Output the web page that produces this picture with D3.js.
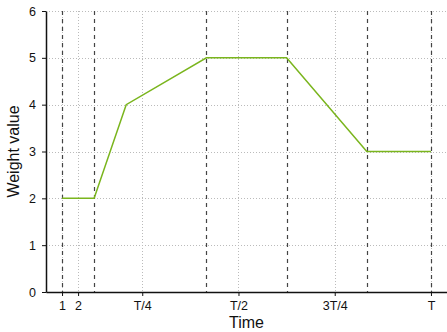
<!DOCTYPE html>
<html>
<head>
<meta charset="utf-8">
<script src="https://cdn.jsdelivr.net/npm/d3@7"></script>
<style>
  body { margin: 0; background: #fff; }
  svg { display: block; font-family: "Liberation Sans", Arial, sans-serif; }
</style>
</head>
<body>
<svg id="chart" width="447" height="332"></svg>
<script>
// data
var times = [1, 3, 5, 10, 15, 20, 24];
var weights = [2, 2, 4, 5, 5, 3, 3];
var phaseMarks = [1, 3, 10, 15, 20, 24];
var xTickVals = [1, 2, 6, 12, 18, 24];
var xTickLabels = ['1', '2', 'T/4', 'T/2', '3T/4', 'T'];
var yTickVals = [0, 1, 2, 3, 4, 5, 6];

var svg = d3.select('#chart'),
	margin = {top: 11, right: 0, bottom: 40, left: 46},
	width = 447 - margin.left - margin.right,
	height = 332 - margin.top - margin.bottom;

var x = d3.scaleLinear().domain([0, 25]).range([0, width]);
var y = d3.scaleLinear().domain([0, 6]).range([height, 0]);

var g = svg.append('g').attr('transform', 'translate(' + margin.left + ',' + margin.top + ')');

// grid
g.selectAll('line.hgrid').data(yTickVals).enter().append('line')
	.attr('x1', 0).attr('x2', width)
	.attr('y1', function(d){ return Math.round(y(d)) + 0.5; })
	.attr('y2', function(d){ return Math.round(y(d)) + 0.5; })
	.style('stroke', '#bbb').style('stroke-dasharray', '1,2');
g.selectAll('line.vgrid').data(xTickVals).enter().append('line')
	.attr('y1', 0).attr('y2', height)
	.attr('x1', function(d){ return Math.round(x(d)) + 0.5; })
	.attr('x2', function(d){ return Math.round(x(d)) + 0.5; })
	.style('stroke', '#bbb').style('stroke-dasharray', '1,2');

// dashed phase markers
g.selectAll('line.mark').data(phaseMarks).enter().append('line')
	.attr('y1', 0).attr('y2', height)
	.attr('x1', function(d){ return Math.round(x(d)) + 0.5; })
	.attr('x2', function(d){ return Math.round(x(d)) + 0.5; })
	.style('stroke', '#444').style('stroke-width', 1.2).style('stroke-dasharray', '4,4');

// weight line
var line = d3.line()
	.x(function(d, i){ return x(times[i]); })
	.y(function(d){ return y(d); });
g.append('path').datum(weights)
	.attr('d', line)
	.style('fill', 'none').style('stroke', '#7ab51d').style('stroke-width', 1.5);

// axes
var xAxis = d3.axisBottom(x).tickValues(xTickVals)
	.tickFormat(function(d, i){ return xTickLabels[i]; })
	.tickSize(4).tickPadding(5).tickSizeOuter(0);
var yAxis = d3.axisLeft(y).tickValues(yTickVals).tickFormat(d3.format('d'))
	.tickSize(4).tickPadding(6).tickSizeOuter(0);

var gx = g.append('g').attr('transform', 'translate(0,' + height + ')').call(xAxis);
var gy = g.append('g').call(yAxis);
[gx, gy].forEach(function(a){
	a.selectAll('text').style('font-size', '12.5px').style('fill', '#111').style('font-family', '"Liberation Sans", Arial, sans-serif');
	a.selectAll('line').style('stroke', '#111');
	a.select('.domain').style('stroke', '#111').style('stroke-width', 1.5);
});

// labels
svg.append('text')
	.attr('x', margin.left + x(12.5)).attr('y', 328)
	.attr('text-anchor', 'middle')
	.style('font-size', '16px').style('fill', '#111')
	.text('Time');
svg.append('text')
	.attr('transform', 'translate(19,' + (margin.top + height / 2) + ')rotate(-90)')
	.attr('text-anchor', 'middle')
	.style('font-size', '16px').style('fill', '#111')
	.text('Weight value');
</script>
</body>
</html>
